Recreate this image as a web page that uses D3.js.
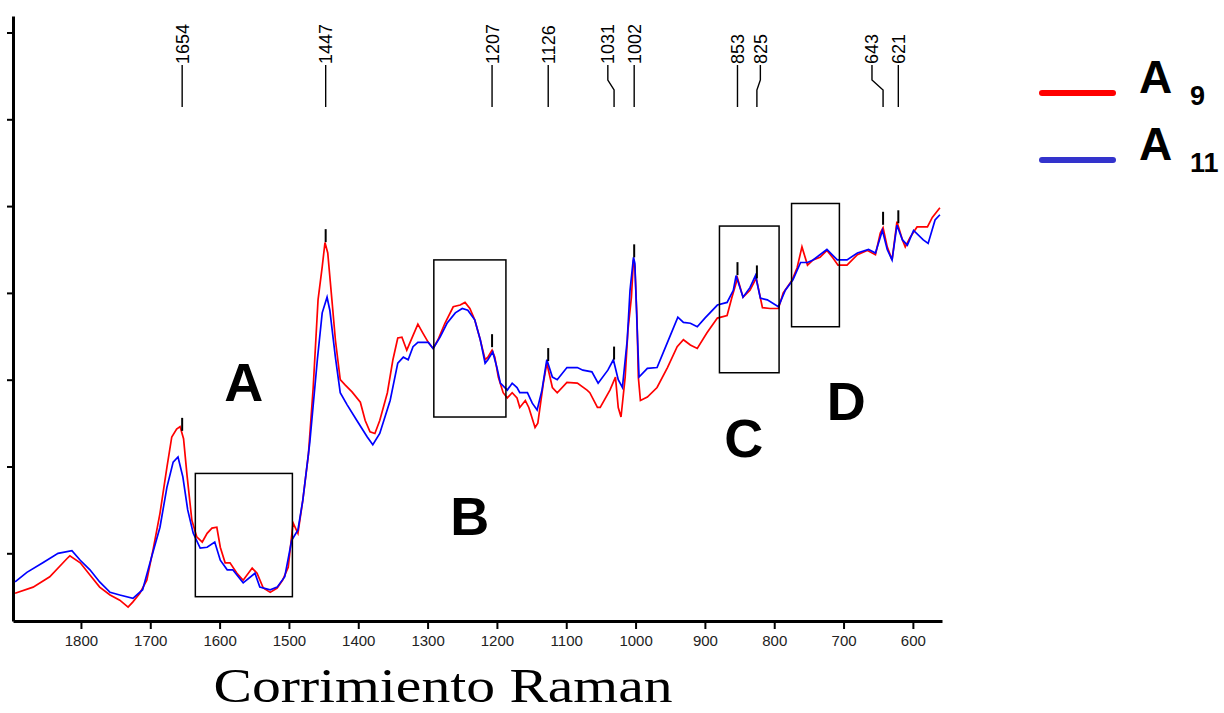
<!DOCTYPE html>
<html>
<head>
<meta charset="utf-8">
<script src="https://cdn.jsdelivr.net/npm/d3@7/dist/d3.min.js"></script>
<style>
  html, body { margin: 0; padding: 0; background: #fff; }
  svg { display: block; }
</style>
</head>
<body>
<svg id="chart" width="1224" height="713"></svg>
<script>
// Raman spectra of two samples: [wavenumber (cm-1), intensity (a.u.)]
const spectrumA9 = [
  [1895,54],[1869,61],[1845,73],[1820,94],[1816,97],[1801,89],[1787,75],[1773,61],[1758,52],
  [1744,46],[1732,38],[1725,44],[1715,54],[1705,69],[1696,104],[1686,146],[1676,199],[1669,234],
  [1662,243],[1657,246],[1652,232],[1647,190],[1640,138],[1633,119],[1625,113],[1618,123],
  [1611,129],[1604,130],[1599,107],[1592,89],[1585,89],[1575,77],[1566,69],[1553,83],[1546,77],
  [1537,60],[1527,55],[1517,60],[1509,69],[1501,84],[1494,135],[1487,123],[1480,161],[1472,213],
  [1465,291],[1458,392],[1452,430],[1448,458],[1444,446],[1438,392],[1433,346],[1426,300],
  [1419,294],[1409,286],[1397,274],[1390,253],[1383,240],[1376,238],[1369,253],[1358,285],
  [1350,323],[1343,348],[1337,349],[1330,334],[1322,349],[1314,364],[1307,354],[1299,343],
  [1292,336],[1285,346],[1275,365],[1263,384],[1253,386],[1246,389],[1239,382],[1232,369],
  [1224,346],[1217,323],[1213,326],[1207,334],[1203,326],[1198,303],[1191,285],[1185,279],
  [1178,285],[1171,279],[1167,268],[1159,276],[1154,268],[1145,245],[1141,250],[1133,296],
  [1128,319],[1120,291],[1113,285],[1099,297],[1084,296],[1070,288],[1066,285],[1055,268],
  [1051,268],[1037,288],[1029,303],[1025,268],[1021,257],[1015,303],[1011,357],[1006,395],
  [1003,438],[1001,430],[998,372],[996,303],[993,276],[983,280],[969,291],[954,314],[940,338],
  [931,346],[921,340],[911,336],[897,354],[882,371],[868,374],[861,395],[853,417],[845,395],
  [835,403],[826,417],[817,383],[806,382],[794,382],[787,400],[774,415],[767,429],[760,453],
  [752,432],[744,438],[734,441],[724,449],[715,440],[708,432],[695,432],[680,444],[666,449],
  [654,444],[647,469],[643,475],[637,453],[630,438],[623,482],[615,461],[611,453],[604,464],
  [594,476],[579,476],[572,487],[561,498]
];

const spectrumA11 = [
  [1895,67],[1878,78],[1855,89],[1833,100],[1813,103],[1801,92],[1787,81],[1773,67],[1758,55],
  [1744,52],[1725,48],[1711,58],[1698,96],[1686,130],[1676,176],[1667,205],[1660,211],[1653,188],
  [1646,150],[1638,123],[1628,106],[1618,107],[1607,113],[1599,92],[1589,81],[1581,81],[1566,66],
  [1549,77],[1542,61],[1527,58],[1517,61],[1506,73],[1496,115],[1487,127],[1480,161],[1470,227],
  [1459,323],[1452,377],[1445,395],[1441,380],[1433,326],[1426,285],[1416,271],[1402,253],
  [1387,234],[1379,225],[1369,238],[1354,276],[1343,319],[1335,326],[1328,323],[1321,338],
  [1314,343],[1299,343],[1292,336],[1282,349],[1272,365],[1260,377],[1250,382],[1242,380],
  [1232,369],[1224,346],[1217,319],[1213,323],[1206,332],[1200,314],[1195,296],[1185,288],
  [1178,296],[1171,291],[1167,285],[1156,285],[1149,273],[1142,265],[1135,288],[1128,323],
  [1120,303],[1113,300],[1099,314],[1084,314],[1076,311],[1063,309],[1054,296],[1040,311],
  [1032,323],[1025,300],[1019,291],[1012,346],[1008,403],[1003,441],[1001,434],[998,365],
  [995,303],[983,313],[969,314],[954,343],[939,372],[931,366],[921,365],[911,361],[900,371],
  [882,386],[868,389],[859,403],[855,420],[845,395],[835,406],[827,420],[820,394],[810,392],
  [794,384],[784,403],[773,415],[762,435],[752,435],[744,438],[724,450],[709,438],[695,438],
  [680,446],[664,450],[654,446],[644,472],[637,450],[630,438],[623,478],[615,461],[608,455],
  [599,472],[585,461],[578,457],[568,484],[561,490]
];

// Assigned band positions (cm-1)
const peakBands = [1654, 1447, 1207, 1126, 1031, 1002, 853, 825, 643, 621];

// Where each band label sits along the axis (cm-1), shifted where labels would collide
const peakLabelAt = [1654, 1447, 1207, 1126, 1040, 1002, 853, 820, 659, 621];

// Bottom axis ticks and unlabelled intensity ticks
const wavenumberTicks = [1800, 1700, 1600, 1500, 1400, 1300, 1200, 1100, 1000, 900, 800, 700, 600];
const intensityTicks = [100, 200, 300, 400, 500, 600, 700];

// Highlighted spectral regions: name, wavenumber span, intensity span
const regionNames = ["A", "B", "C", "D"];
const regionSpans = [[1635, 1495], [1291, 1187], [879, 793], [775, 706]];
const regionLevels = [[50, 192], [257, 438], [308, 477], [361, 503]];
// Region letters: wavenumber and intensity of the letter baseline
const regionLetterAt = [[1565, 275], [1239, 121], [844, 211], [696, 254]];

const seriesNames = ["A9", "A11"];
const seriesColors = ["#ff0000", "#0000ff"];
const legendColors = ["#ff0000", "#3333cc"];

const svg = d3.select("#chart");

const x = d3.scaleLinear().domain([1898, 558]).range([13, 942]);
const y = d3.scaleLinear().domain([22, 719]).range([621, 16]);

// Axes
const xAxis = d3.axisBottom(x)
  .tickValues(wavenumberTicks)
  .tickFormat(d3.format("d"))
  .tickSize(8)
  .tickSizeOuter(0)
  .tickPadding(6);
const gx = svg.append("g").attr("transform", "translate(0,621)").call(xAxis);
gx.select(".domain").attr("stroke", "#000").attr("stroke-width", 3);
gx.selectAll(".tick line").attr("stroke", "#000").attr("stroke-width", 2);
gx.selectAll(".tick text")
  .attr("fill", "#222")
  .style("font-family", "Arial, 'Liberation Sans', sans-serif")
  .style("font-size", "15px");

const yAxis = d3.axisLeft(y)
  .tickValues(intensityTicks)
  .tickSize(6)
  .tickSizeOuter(0)
  .tickFormat("");
const gy = svg.append("g").attr("transform", "translate(13,0)").call(yAxis);
gy.select(".domain").attr("stroke", "#000").attr("stroke-width", 3);
gy.selectAll(".tick line").attr("stroke", "#000").attr("stroke-width", 2);

// Spectra
const line = d3.line().x(d => x(d[0])).y(d => y(d[1]));
const spectra = [spectrumA9, spectrumA11];
spectra.forEach((s, i) => {
  svg.append("path")
    .datum(s)
    .attr("d", line)
    .attr("fill", "none")
    .attr("stroke", seriesColors[i])
    .attr("stroke-width", 1.7)
    .attr("stroke-linejoin", "miter");
});

// Intensity of a spectrum at a given wavenumber (linear between samples)
function valueAt(s, wn) {
  for (let i = 0; i < s.length - 1; i++) {
    const a = s[i], b = s[i + 1];
    if (wn <= a[0] && wn >= b[0]) {
      const t = (a[0] - wn) / (a[0] - b[0]);
      return a[1] + t * (b[1] - a[1]);
    }
  }
  return s[s.length - 1][1];
}

// Short markers above each assigned band
peakBands.forEach(wn => {
  const top = d3.max(spectra, s => valueAt(s, wn));
  const yp = y(top);
  svg.append("line")
    .attr("x1", x(wn)).attr("x2", x(wn))
    .attr("y1", yp - 16).attr("y2", yp - 3)
    .attr("stroke", "#000").attr("stroke-width", 2);
});

// Band labels with leader lines at the top
const labelBottom = 64, leaderBottom = 107;
peakBands.forEach((wn, i) => {
  const lx = x(peakLabelAt[i]);
  const px = x(wn);
  const pts = (Math.abs(lx - px) < 0.5)
    ? [[px, labelBottom + 1], [px, leaderBottom]]
    : [[lx, labelBottom + 1], [lx, 80], [px, 90], [px, leaderBottom]];
  svg.append("path")
    .attr("d", d3.line()(pts))
    .attr("fill", "none")
    .attr("stroke", "#000")
    .attr("stroke-width", 1.4);
  svg.append("text")
    .attr("transform", `translate(${lx},${labelBottom}) rotate(-90)`)
    .attr("dy", "0.36em")
    .attr("text-anchor", "start")
    .attr("fill", "#000")
    .style("font-family", "Arial, 'Liberation Sans', sans-serif")
    .style("font-size", "18px")
    .text(wn);
});

// Highlighted regions
regionNames.forEach((name, i) => {
  const [w0, w1] = regionSpans[i];
  const [v0, v1] = regionLevels[i];
  svg.append("rect")
    .attr("x", x(w0)).attr("y", y(v1))
    .attr("width", x(w1) - x(w0)).attr("height", y(v0) - y(v1))
    .attr("fill", "none")
    .attr("stroke", "#000")
    .attr("stroke-width", 1.5);
  svg.append("text")
    .attr("x", x(regionLetterAt[i][0]))
    .attr("y", y(regionLetterAt[i][1]))
    .attr("text-anchor", "middle")
    .attr("fill", "#000")
    .style("font-family", "Arial, 'Liberation Sans', sans-serif")
    .style("font-weight", "bold")
    .style("font-size", "54px")
    .text(name);
});

// Axis title (slightly widened serif lettering)
svg.append("text")
  .attr("transform", "translate(443,702) scale(1.2,1)")
  .attr("text-anchor", "middle")
  .attr("fill", "#000")
  .style("font-family", "'Times New Roman', 'Liberation Serif', serif")
  .style("font-size", "48px")
  .text("Corrimiento Raman");

// Legend
const legend = svg.append("g");
seriesNames.forEach((name, i) => {
  const ly = 93 + i * 67;
  legend.append("line")
    .attr("x1", 1042).attr("x2", 1113)
    .attr("y1", ly).attr("y2", ly)
    .attr("stroke", legendColors[i])
    .attr("stroke-width", 6)
    .attr("stroke-linecap", "round");
  const t = legend.append("text")
    .attr("x", 1139)
    .attr("y", ly)
    .attr("fill", "#000")
    .style("font-family", "Arial, 'Liberation Sans', sans-serif")
    .style("font-weight", "bold");
  t.append("tspan").style("font-size", "46px").text(name.charAt(0));
  t.append("tspan")
    .attr("x", 1190)
    .attr("dy", 12)
    .style("font-size", "27px")
    .text(name.slice(1));
});
</script>
</body>
</html>
